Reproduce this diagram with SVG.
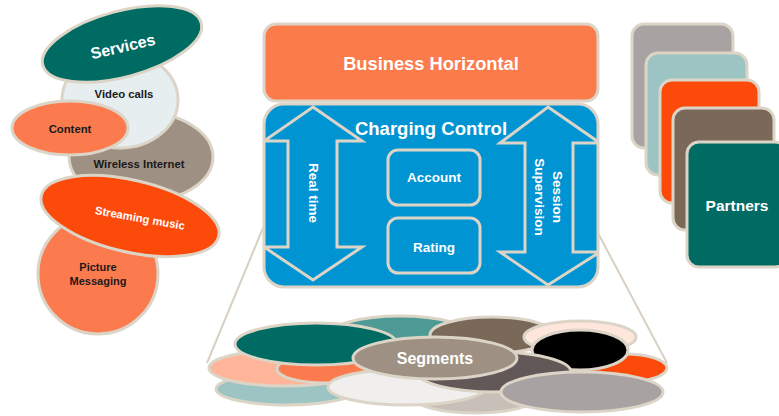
<svg xmlns="http://www.w3.org/2000/svg" width="779" height="416" viewBox="0 0 779 416">
<defs>
<style>
.s{stroke:#DCD5C7;stroke-width:3}
.t{font-family:"Liberation Sans",Arial,sans-serif;font-weight:bold;text-anchor:middle}
.w{fill:#fff}
.k{fill:#1a1a1a}
.ln{stroke:#D8D1C3;stroke-width:2;fill:none}
</style>
<clipPath id="cc"><rect x="264" y="104" width="334" height="183" rx="20"/></clipPath>
</defs>
<rect width="779" height="416" fill="#fff"/>

<g id="connectors">
<line class="ln" x1="263" y1="228" x2="207" y2="363"/>
<line class="ln" x1="598" y1="233" x2="667" y2="363"/>
</g>

<g id="services">
<g id="picture-messaging">
<circle class="s" cx="98" cy="274" r="60" fill="#FC7B4E"/>
<text class="t k" x="98" y="271" font-size="11">Picture</text>
<text class="t k" x="98" y="285" font-size="11">Messaging</text>
</g>
<g id="wireless-internet">
<ellipse class="s" cx="141" cy="157" rx="72" ry="45" fill="#9E9184"/>
<text class="t k" x="139" y="168" font-size="11.3">Wireless Internet</text>
</g>
<g id="video-calls">
<ellipse class="s" cx="120" cy="100" rx="58" ry="48" fill="#E6EEF0"/>
<text class="t k" x="124" y="98" font-size="11.3">Video calls</text>
</g>
<g id="content">
<ellipse class="s" cx="70" cy="128" rx="58" ry="27" fill="#FC7B4E"/>
<text class="t k" x="70" y="133" font-size="11.3">Content</text>
</g>
<g id="streaming-music">
<ellipse class="s" cx="130" cy="216" rx="91" ry="36" fill="#FC4A0A" transform="rotate(13 130 216)"/>
<text class="t w" x="140" y="222" font-size="11.3" transform="rotate(10 140 218)">Streaming music</text>
</g>
<g id="services-title">
<ellipse class="s" cx="122" cy="44" rx="82" ry="33" fill="#006B63" transform="rotate(-15 122 44)"/>
<text class="t w" x="123" y="52" font-size="16" transform="rotate(-13 123 47)">Services</text>
</g>
</g>

<g id="business-horizontal">
<rect class="s" x="264" y="24" width="334" height="77" rx="12" fill="#FC7B4B"/>
<text class="t w" x="431" y="70" font-size="18.3">Business Horizontal</text>
</g>

<g id="charging-control">
<rect x="264" y="104" width="334" height="183" rx="20" fill="#0094D3"/>
<g clip-path="url(#cc)">
<polygon class="s" fill="#0094D3" stroke-width="2.5" points="313,107 362,141 337,141 337,247 362,247 313,280 264,247 288,247 288,141 264,141"/>
<polygon class="s" fill="#0094D3" stroke-width="2.5" points="548,107 600,143 573,143 573,252 600,252 548,285 500,252 525,252 525,143 500,143"/>
</g>
<rect class="s" x="264" y="104" width="334" height="183" rx="20" fill="none"/>
<text class="t w" x="431" y="135" font-size="18.5">Charging Control</text>
<text class="t w" x="313" y="197" font-size="13.5" transform="rotate(90 313 193)">Real time</text>
<text class="t w" x="557" y="201" font-size="13.5" transform="rotate(90 557 197)">Session</text>
<text class="t w" x="539" y="201" font-size="13.5" transform="rotate(90 539 197)">Supervision</text>
<g id="account">
<rect class="s" x="388" y="150" width="92" height="55" rx="10" fill="#0094D3"/>
<text class="t w" x="434" y="182" font-size="13.5">Account</text>
</g>
<g id="rating">
<rect class="s" x="388" y="218" width="92" height="55" rx="10" fill="#0094D3"/>
<text class="t w" x="434" y="252" font-size="13.5">Rating</text>
</g>
</g>

<g id="partners">
<rect class="s" x="632" y="24" width="101" height="124" rx="12" fill="#A8A2A2"/>
<rect class="s" x="646" y="53" width="101" height="122" rx="12" fill="#9CC4C2"/>
<rect class="s" x="660" y="80" width="99" height="123" rx="12" fill="#FC4A0A"/>
<rect class="s" x="673" y="108" width="101" height="122" rx="12" fill="#7A6858"/>
<rect class="s" x="687" y="142" width="100" height="125" rx="12" fill="#006B63"/>
<text class="t w" x="737" y="211" font-size="15.5">Partners</text>
</g>

<g id="segments">
<ellipse class="s" cx="287" cy="389" rx="71" ry="16" fill="#9CC4C2"/>
<ellipse class="s" cx="285" cy="368" rx="76" ry="18" fill="#FFB599"/>
<ellipse class="s" cx="475" cy="398" rx="60" ry="15" fill="#C8C0B8"/>
<ellipse class="s" cx="400" cy="336" rx="72" ry="20" fill="#4E9A95"/>
<ellipse class="s" cx="492" cy="335" rx="62" ry="18" fill="#7A6858"/>
<ellipse class="s" cx="580" cy="337" rx="56" ry="16" fill="#FFE6DC"/>
<ellipse class="s" cx="625" cy="368" rx="42" ry="14" fill="#FC4A0A"/>
<ellipse class="s" cx="580" cy="350" rx="48" ry="20" fill="#000"/>
<ellipse class="s" cx="325" cy="369" rx="48" ry="14" fill="#FC7B4E"/>
<ellipse class="s" cx="316" cy="344" rx="81" ry="21" fill="#006B63"/>
<ellipse class="s" cx="407" cy="387" rx="79" ry="18" fill="#F0EFED"/>
<ellipse class="s" cx="494" cy="372" rx="77" ry="20" fill="#635858"/>
<ellipse class="s" cx="582" cy="392" rx="81" ry="20" fill="#A8A2A2"/>
<ellipse class="s" cx="435" cy="358" rx="82" ry="21" fill="#9E9184"/>
<text class="t w" x="435" y="364" font-size="16">Segments</text>
</g>
</svg>
